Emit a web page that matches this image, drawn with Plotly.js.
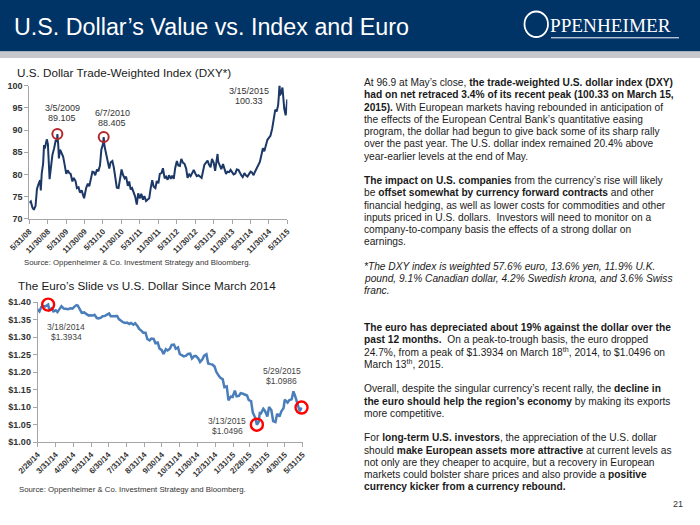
<!DOCTYPE html>
<html><head><meta charset="utf-8">
<script src="https://cdn.plot.ly/plotly-3.0.1.min.js"></script>
<style>html,body{margin:0;padding:0;background:#fff}#chart{width:700px;height:525px}</style>
</head><body><div id="chart"></div>
<script>
// ---------- DXY data ----------
const dxyDates = ['2008-05-31','2008-06-15','2008-07-01','2008-07-15','2008-08-01','2008-08-15','2008-09-01','2008-09-15','2008-09-22','2008-10-01','2008-10-15','2008-10-24','2008-11-01','2008-11-20','2008-12-01','2008-12-12','2008-12-18',
'2009-01-01','2009-01-15','2009-02-01','2009-02-18','2009-03-01','2009-03-05','2009-03-15','2009-03-20','2009-04-01','2009-04-15','2009-05-01','2009-05-15','2009-06-01','2009-06-15','2009-07-01','2009-07-15','2009-08-01','2009-08-15','2009-09-01','2009-09-15','2009-10-01','2009-10-15','2009-11-01','2009-11-15','2009-11-25','2009-12-15',
'2010-01-01','2010-01-15','2010-02-01','2010-02-15','2010-03-01','2010-03-15','2010-04-01','2010-04-15','2010-05-01','2010-05-15','2010-06-01','2010-06-07','2010-06-15','2010-07-01','2010-07-15','2010-08-01','2010-08-15','2010-09-01','2010-09-15','2010-10-01','2010-10-15','2010-11-01','2010-11-15','2010-12-01','2010-12-15',
'2011-01-01','2011-01-15','2011-02-01','2011-02-15','2011-03-01','2011-03-15','2011-04-01','2011-04-15','2011-05-01','2011-05-15','2011-06-01','2011-06-15','2011-07-01','2011-07-15','2011-08-01','2011-08-15','2011-09-01','2011-09-15','2011-10-01','2011-10-15','2011-11-01','2011-11-15','2011-12-01','2011-12-15',
'2012-01-01','2012-01-15','2012-02-01','2012-02-15','2012-03-01','2012-03-15','2012-04-01','2012-04-15','2012-05-01','2012-05-15','2012-06-01','2012-06-15','2012-07-01','2012-07-15','2012-08-01','2012-08-15','2012-09-01','2012-09-15','2012-10-01','2012-10-15','2012-11-01','2012-11-15','2012-12-01','2012-12-15',
'2013-01-01','2013-01-15','2013-02-01','2013-02-15','2013-03-01','2013-03-15','2013-04-01','2013-04-15','2013-05-01','2013-05-15','2013-06-01','2013-06-15','2013-07-01','2013-07-09','2013-07-15','2013-08-01','2013-08-15','2013-09-01','2013-09-15','2013-10-01','2013-10-15','2013-11-01','2013-11-15','2013-12-01','2013-12-15',
'2014-01-01','2014-01-15','2014-02-01','2014-02-15','2014-03-01','2014-03-15','2014-04-01','2014-04-15','2014-05-01','2014-05-15','2014-06-01','2014-06-15','2014-07-01','2014-07-15','2014-08-01','2014-08-15','2014-09-01','2014-09-15','2014-10-01','2014-10-15','2014-11-01','2014-11-15','2014-12-01','2014-12-15',
'2015-01-01','2015-01-15','2015-02-01','2015-02-15','2015-03-01','2015-03-08','2015-03-15','2015-03-20','2015-04-01','2015-04-13','2015-04-22','2015-05-01','2015-05-15','2015-05-22','2015-05-31'];
const dxyValues = [73.6,73.9,72.5,72.0,72.9,76.7,77.9,78.7,76.4,80.2,82.4,86.6,85.8,87.9,86.9,82.0,78.9,
81.7,84.4,85.9,87.8,87.4,89.105,86.2,83.6,85.6,85.0,84.0,82.3,80.1,80.9,80.3,80.1,78.4,79.2,78.5,76.9,77.1,75.9,76.4,75.3,74.6,76.9,
77.9,77.3,79.6,80.6,80.5,79.8,81.1,80.7,82.0,85.6,86.9,88.405,86.4,84.5,83.0,81.3,82.7,83.0,81.6,78.7,77.0,76.9,78.6,81.1,79.9,
79.1,79.5,77.4,78.4,76.6,76.9,76.0,75.0,73.2,75.7,74.6,75.6,74.3,75.1,74.0,74.2,74.6,76.8,78.7,77.2,76.9,78.5,78.0,80.1,
80.3,81.4,79.1,79.5,78.8,79.8,79.0,79.7,79.0,81.4,83.0,82.0,81.9,83.5,82.6,82.4,81.3,79.2,80.0,79.6,80.3,81.0,80.2,79.6,
79.8,79.6,79.2,80.7,82.2,82.6,83.1,82.2,81.6,83.5,82.6,80.8,83.3,84.6,82.9,81.8,81.2,82.3,81.2,80.1,80.6,80.5,81.0,80.6,80.0,
80.2,81.1,81.0,80.2,79.8,79.4,80.3,79.8,79.5,80.0,80.6,80.4,79.8,80.6,81.4,81.8,82.8,84.2,85.9,85.2,86.9,87.8,88.3,88.7,
90.3,92.4,94.6,94.2,95.6,97.6,100.33,97.8,98.4,99.6,97.3,94.8,93.3,96.0,96.9];
const dxyTickVals = ['2008-05-31','2008-11-30','2009-05-31','2009-11-30','2010-05-31','2010-11-30','2011-05-31','2011-11-30','2012-05-31','2012-11-30','2013-05-31','2013-11-30','2014-05-31','2014-11-30','2015-05-31'];
const dxyTickText = ['5/31/08','11/30/08','5/31/09','11/30/09','5/31/10','11/30/10','5/31/11','11/30/11','5/31/12','11/30/12','5/31/13','11/30/13','5/31/14','11/30/14','5/31/15'];
const dxyMarkDates = ['2009-03-05','2010-06-07','2015-03-15'];
const dxyMarkValues = [89.105, 88.405, 100.33];
const dxyMarkLabels = ['3/5/2009','6/7/2010','3/15/2015'];
const dxyMarkValueText = ['89.105','88.405','100.33'];

// ---------- EUR/USD data ----------
const eurDates = ['2014-02-28','2014-03-03','2014-03-06','2014-03-10','2014-03-13','2014-03-18','2014-03-20','2014-03-24','2014-03-27','2014-03-31','2014-04-03','2014-04-07','2014-04-10','2014-04-14','2014-04-17','2014-04-22','2014-04-25','2014-04-29','2014-05-02','2014-05-06','2014-05-08','2014-05-12','2014-05-15','2014-05-19','2014-05-22','2014-05-27','2014-05-30',
'2014-06-03','2014-06-06','2014-06-10','2014-06-13','2014-06-17','2014-06-20','2014-06-24','2014-06-27','2014-07-01','2014-07-04','2014-07-08','2014-07-11','2014-07-15','2014-07-18','2014-07-22','2014-07-25','2014-07-29','2014-08-01','2014-08-05','2014-08-08','2014-08-12','2014-08-15','2014-08-19','2014-08-22','2014-08-26','2014-08-29',
'2014-09-02','2014-09-05','2014-09-09','2014-09-12','2014-09-16','2014-09-19','2014-09-23','2014-09-26','2014-09-30','2014-10-03','2014-10-07','2014-10-10','2014-10-14','2014-10-17','2014-10-21','2014-10-24','2014-10-28','2014-10-31','2014-11-04','2014-11-07','2014-11-11','2014-11-14','2014-11-18','2014-11-21','2014-11-25','2014-11-28',
'2014-12-02','2014-12-05','2014-12-09','2014-12-12','2014-12-16','2014-12-19','2014-12-23','2014-12-26','2014-12-30','2015-01-02','2015-01-06','2015-01-09','2015-01-13','2015-01-16','2015-01-20','2015-01-23','2015-01-27','2015-01-30','2015-02-03','2015-02-06','2015-02-10','2015-02-13','2015-02-17','2015-02-20','2015-02-24','2015-02-27',
'2015-03-03','2015-03-06','2015-03-10','2015-03-13','2015-03-16','2015-03-18','2015-03-20','2015-03-24','2015-03-27','2015-03-31','2015-04-03','2015-04-07','2015-04-10','2015-04-14','2015-04-17','2015-04-21','2015-04-24','2015-04-28','2015-04-30','2015-05-05','2015-05-08','2015-05-12','2015-05-15','2015-05-18','2015-05-21','2015-05-26','2015-05-29'];
const eurValues = [1.380,1.374,1.386,1.389,1.388,1.3934,1.378,1.383,1.374,1.377,1.372,1.380,1.389,1.382,1.381,1.380,1.383,1.382,1.387,1.392,1.391,1.376,1.370,1.371,1.367,1.362,1.363,
1.362,1.364,1.355,1.354,1.356,1.360,1.361,1.364,1.368,1.360,1.361,1.361,1.361,1.352,1.346,1.343,1.341,1.342,1.338,1.341,1.336,1.340,1.332,1.324,1.318,1.313,
1.313,1.295,1.291,1.296,1.295,1.283,1.285,1.268,1.263,1.252,1.266,1.262,1.267,1.278,1.279,1.267,1.271,1.252,1.248,1.245,1.247,1.252,1.253,1.239,1.246,1.246,
1.239,1.229,1.237,1.247,1.251,1.225,1.223,1.222,1.216,1.201,1.190,1.184,1.180,1.157,1.159,1.119,1.130,1.129,1.147,1.131,1.132,1.140,1.138,1.136,1.133,1.120,
1.117,1.084,1.070,1.0496,1.057,1.083,1.082,1.095,1.089,1.073,1.100,1.091,1.060,1.057,1.081,1.073,1.087,1.097,1.121,1.113,1.120,1.122,1.145,1.131,1.113,1.088,1.0986];
const eurTickVals = ['2014-02-28','2014-03-31','2014-04-30','2014-05-31','2014-06-30','2014-07-31','2014-08-31','2014-09-30','2014-10-31','2014-11-30','2014-12-31','2015-01-31','2015-02-28','2015-03-31','2015-04-30','2015-05-31'];
const eurTickText = ['2/28/14','3/31/14','4/30/14','5/31/14','6/30/14','7/31/14','8/31/14','9/30/14','10/31/14','11/30/14','12/31/14','1/31/15','2/28/15','3/31/15','4/30/15','5/31/15'];
const eurMarkDates = ['2014-03-18','2015-03-13','2015-05-29'];
const eurMarkValues = [1.3934, 1.0496, 1.0986];
const eurMarkLabels = ['3/18/2014','3/13/2015','5/29/2015'];
const eurMarkValueText = ['$1.3934','$1.0496','$1.0986'];

// ---------- text ----------
const slideTitle = 'U.S. Dollar’s Value vs. Index and Euro';
const chart1Title = 'U.S. Dollar Trade-Weighted Index (DXY*)';
const chart2Title = 'The Euro’s Slide vs U.S. Dollar Since March 2014';
const sourceText = 'Source: Oppenheimer &amp; Co. Investment Strategy and Bloomberg.';
const bodyLines = [
 'At 96.9 at May’s close, <b>the trade-weighted U.S. dollar index (DXY)</b>',
 '<b>had on net retraced 3.4% of its recent peak (100.33 on March 15,</b>',
 '<b>2015).</b> With European markets having rebounded in anticipation of',
 'the effects of the European Central Bank’s quantitative easing',
 'program, the dollar had begun to give back some of its sharp rally',
 'over the past year. The U.S. dollar index remained 20.4% above',
 'year-earlier levels at the end of May.',
 '',
 '<b>The impact on U.S. companies</b> from the currency’s rise will likely',
 'be <b>offset somewhat by currency forward contracts</b> and other',
 'financial hedging, as well as lower costs for commodities and other',
 'inputs priced in U.S. dollars.  Investors will need to monitor on a',
 'company-to-company basis the effects of a strong dollar on',
 'earnings.',
 '',
 '<i>*The DXY index is weighted 57.6% euro, 13.6% yen, 11.9% U.K.</i>',
 '<i>pound, 9.1% Canadian dollar, 4.2% Swedish krona, and 3.6% Swiss</i>',
 '<i>franc.</i>',
 '',
 '',
 '<b>The euro has depreciated about 19% against the dollar over the</b>',
 '<b>past 12 months.</b>  On a peak-to-trough basis, the euro dropped',
 '24.7%, from a peak of $1.3934 on March 18<sup>th</sup>, 2014, to $1.0496 on',
 'March 13<sup>th</sup>, 2015.',
 '',
 'Overall, despite the singular currency’s recent rally, the <b>decline in</b>',
 '<b>the euro should help the region’s economy</b> by making its exports',
 'more competitive.',
 '',
 'For <b>long-term U.S. investors</b>, the appreciation of the U.S. dollar',
 'should <b>make European assets more attractive</b> at current levels as',
 'not only are they cheaper to acquire, but a recovery in European',
 'markets could bolster share prices and also provide a <b>positive</b>',
 '<b>currency kicker from a currency rebound.</b>'
];

// ---------- layout helpers ----------
const W = 700, H = 525;
const px = x => x / W;
const py = y => 1 - y / H;
const FONT = 'Arial, "Liberation Sans", sans-serif';

function txt(x, y, text, size, opts) {
  return Object.assign({
    xref: 'paper', yref: 'paper', x: px(x), y: py(y), text: text, showarrow: false,
    xanchor: 'left', yanchor: 'middle', borderpad: 0,
    font: {family: FONT, size: size, color: '#222'}
  }, opts || {});
}

const annotations = [];
annotations.push(txt(13, 27, slideTitle, 23.3, {font: {family: FONT, size: 23.3, color: '#ffffff'}}));
annotations.push(txt(549, 25, 'PPENHEIMER', 19.2, {font: {family: '"Liberation Serif", "DejaVu Serif", serif', size: 19.2, color: '#ffffff'}}));
annotations.push(txt(15.5, 72.3, chart1Title, 11.7, {font: {family: FONT, size: 11.7, color: '#1a1a1a'}}));
annotations.push(txt(16.5, 285.7, chart2Title, 11.7, {font: {family: FONT, size: 11.7, color: '#1a1a1a'}}));
annotations.push(txt(23.3, 262.3, sourceText, 7.8, {font: {family: FONT, size: 7.8, color: '#333'}}));
annotations.push(txt(18.3, 489, sourceText, 7.8, {font: {family: FONT, size: 7.8, color: '#333'}}));
annotations.push(txt(678, 504, '21', 9, {xanchor: 'center', font: {family: FONT, size: 9, color: '#333'}}));

// marker labels chart 1
const dxyLabelPos = [[62.3, 108.3], [112.3, 112.5], [249.3, 90.7]];
dxyMarkLabels.forEach((l, i) => {
  const p = dxyLabelPos[i];
  annotations.push(txt(p[0], p[1], l, 9, {xanchor: 'center', font: {family: FONT, size: 9, color: '#333'}}));
  annotations.push(txt(p[0], p[1] + 10, dxyMarkValueText[i], 9, {xanchor: 'center', font: {family: FONT, size: 9, color: '#333'}}));
});
// marker labels chart 2
const eurLabelPos = [[66, 326.7], [227, 421], [281.7, 371]];
eurMarkLabels.forEach((l, i) => {
  const p = eurLabelPos[i];
  annotations.push(txt(p[0], p[1], l, 8.5, {xanchor: 'center', font: {family: FONT, size: 8.5, color: '#444'}}));
  annotations.push(txt(p[0], p[1] + 10, eurMarkValueText[i], 8.5, {xanchor: 'center', font: {family: FONT, size: 8.5, color: '#444'}}));
});
// body text
bodyLines.forEach((l, i) => {
  if (!l) return;
  annotations.push(txt(363.3, 82.7 + i * 12.25, l, 10.2, {font: {family: FONT, size: 10.2, color: '#1a1a1a'}}));
});

const shapes = [
  {type: 'rect', xref: 'paper', yref: 'paper', x0: 0, x1: 1, y0: py(51.5), y1: 1, fillcolor: '#003366', line: {width: 0}, layer: 'below'},
  {type: 'rect', xref: 'paper', yref: 'paper', x0: 0, x1: 1, y0: py(58), y1: py(51.5), fillcolor: '#c6c8cb', line: {width: 0}, layer: 'below'},
  {type: 'circle', xref: 'paper', yref: 'paper', x0: px(524.5), x1: px(548), y0: py(37), y1: py(11.5), line: {color: '#ffffff', width: 1.8}},
  {type: 'line', xref: 'paper', yref: 'paper', x0: px(551), x1: px(679), y0: py(37.8), y1: py(37.8), line: {color: '#ffffff', width: 1}}
];

const axisCommon = {
  showgrid: false, zeroline: false, showline: true, linecolor: '#a6a6a6', linewidth: 1,
  ticks: 'outside', ticklen: 4, tickcolor: '#a6a6a6', tickwidth: 1
};

const traces = [
  {x: dxyDates, y: dxyValues, xaxis: 'x', yaxis: 'y', type: 'scatter', mode: 'lines',
   line: {color: '#1c3867', width: 2}, hoverinfo: 'skip'},
  {x: dxyMarkDates, y: dxyMarkValues, xaxis: 'x', yaxis: 'y', type: 'scatter', mode: 'markers', cliponaxis: false,
   marker: {symbol: 'circle-open', size: 10, color: '#b3282d', line: {width: 2, color: '#b3282d'}}, hoverinfo: 'skip'},
  {x: eurDates, y: eurValues, xaxis: 'x2', yaxis: 'y2', type: 'scatter', mode: 'lines',
   line: {color: '#4a7ebb', width: 2.5}, hoverinfo: 'skip'},
  {x: eurMarkDates, y: eurMarkValues, xaxis: 'x2', yaxis: 'y2', type: 'scatter', mode: 'markers', cliponaxis: false,
   marker: {symbol: 'circle-open', size: 12, color: '#ff0000', line: {width: 2.4, color: '#ff0000'}}, hoverinfo: 'skip'}
];

const layout = {
  width: W, height: H, margin: {l: 0, r: 0, t: 0, b: 0, pad: 0},
  paper_bgcolor: '#ffffff', plot_bgcolor: 'rgba(0,0,0,0)', showlegend: false,
  font: {family: FONT, color: '#333'},
  xaxis: Object.assign({}, axisCommon, {
    domain: [px(29.3), px(287.3)], anchor: 'y', type: 'date', range: ['2008-05-31', '2015-05-31'],
    tickmode: 'array', tickvals: dxyTickVals, ticktext: dxyTickText, tickangle: -45,
    tickfont: {family: FONT, size: 8, color: '#333', weight: 'bold'}
  }),
  yaxis: Object.assign({}, axisCommon, {
    domain: [py(218.7), py(85.7)], anchor: 'x', range: [70, 100], tick0: 70, dtick: 5,
    tickfont: {family: FONT, size: 9, color: '#333', weight: 'bold'}
  }),
  xaxis2: Object.assign({}, axisCommon, {
    domain: [px(37.7), px(302.7)], anchor: 'y2', type: 'date', range: ['2014-02-28', '2015-05-31'],
    tickmode: 'array', tickvals: eurTickVals, ticktext: eurTickText, tickangle: -45,
    tickfont: {family: FONT, size: 8, color: '#333', weight: 'bold'}
  }),
  yaxis2: Object.assign({}, axisCommon, {
    domain: [py(442), py(302.3)], anchor: 'x2', range: [1.0, 1.4], tick0: 1.0, dtick: 0.05,
    tickformat: '.2f', tickprefix: '$',
    tickfont: {family: FONT, size: 9, color: '#333', weight: 'bold'}
  }),
  shapes: shapes,
  annotations: annotations
};

Plotly.newPlot('chart', traces, layout, {staticPlot: true, displayModeBar: false});
</script>
</body></html>
